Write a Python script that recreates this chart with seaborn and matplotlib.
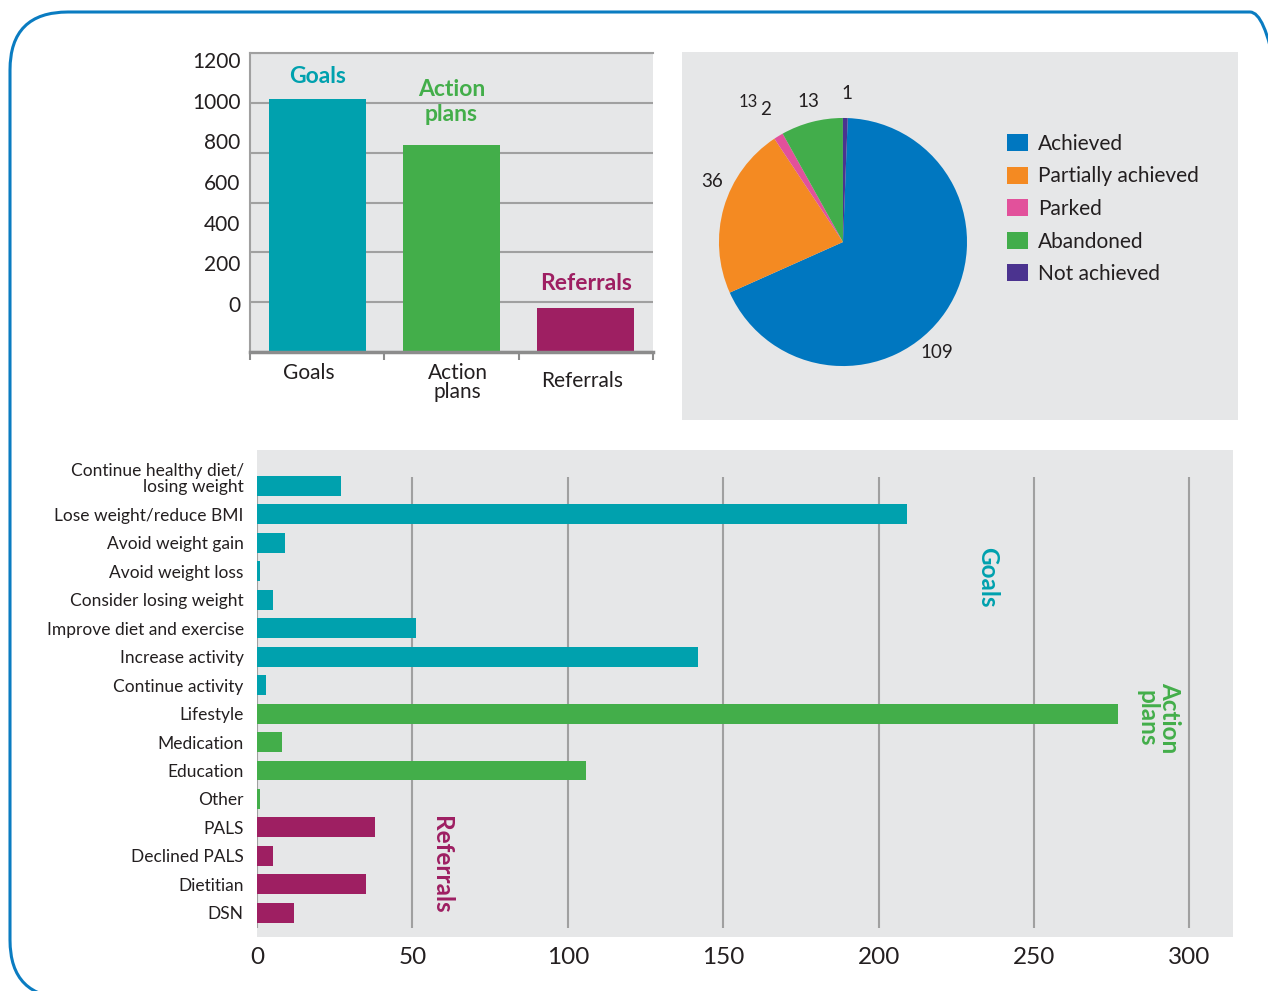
import numpy as np
import pandas as pd
import seaborn as sns
import matplotlib.pyplot as plt
from matplotlib.patches import FancyBboxPatch
from matplotlib.transforms import ScaledTranslation

sns.set_theme(style='white')
plt.rcParams['font.family'] = ['Lato', 'DejaVu Sans']
plt.rcParams['text.color'] = '#231f20'

# --- data ---
summary_categories = ['Goals', 'Action plans', 'Referrals']
summary_ticklabels = ['Goals', 'Action\nplans', 'Referrals']
summary_counts = [1015, 830, 175]

pie_labels = ['Achieved', 'Partially achieved', 'Parked', 'Abandoned', 'Not achieved']
pie_counts = [109, 36, 2, 13, 1]
pie_colors = ['#0077c0', '#f48a22', '#e2519b', '#42ad4b', '#4b338f']

detail_items = ['Continue healthy diet/\nlosing weight', 'Lose weight/reduce BMI',
                'Avoid weight gain', 'Avoid weight loss', 'Consider losing weight',
                'Improve diet and exercise', 'Increase activity', 'Continue activity',
                'Lifestyle', 'Medication', 'Education', 'Other',
                'PALS', 'Declined PALS', 'Dietitian', 'DSN']
detail_counts = [27, 209, 9, 1, 5, 51, 142, 3, 277, 8, 106, 1, 38, 5, 35, 12]
detail_groups = ['Goals'] * 8 + ['Action plans'] * 4 + ['Referrals'] * 4

group_colors = {'Goals': '#00a1ae', 'Action plans': '#43ae4a', 'Referrals': '#9e1f62'}
bg = '#e6e7e8'
grid_col = '#a0a0a0'

fig = plt.figure(figsize=(12.68, 9.91), dpi=100)

# --- top left: totals ---
ax1 = fig.add_axes([250/1268, 1-352/991, 403/1268, 299/991])
df1 = pd.DataFrame({'cat': summary_categories, 'n': summary_counts})
sns.barplot(data=df1, x='cat', y='n', hue='cat', palette=group_colors, width=0.72,
            saturation=1, legend=False, linewidth=0, ax=ax1)
ax1.set_xlim(-0.5, 2.5)
ax1.set_ylim(0, 1200)
ax1.set_facecolor(bg)
ax1.set_yticks(range(0, 1201, 200))
ax1.set_yticklabels([])
ax1.yaxis.grid(True, color=grid_col, lw=1.5)
ax1.set_axisbelow(True)
ax1.tick_params(axis='y', length=0)
ax1.set_xticks([0, 1, 2])
ax1.set_xticklabels(summary_ticklabels, fontsize=15, linespacing=0.95)
ax1.set_xticks([-0.5, 0.5, 1.5, 2.5], minor=True)
ax1.tick_params(axis='x', which='major', length=0, pad=8, labelcolor='#231f20')
ax1.tick_params(axis='x', which='minor', bottom=True, length=6, width=1.5,
                color='#8c8c8c', direction='out')
ax1.set_xlabel('')
ax1.set_ylabel('')
for s in ['left', 'top']:
    ax1.spines[s].set_color(grid_col)
    ax1.spines[s].set_linewidth(1.5)
ax1.spines['right'].set_visible(False)
ax1.spines['bottom'].set_color('#8c8c8c')
ax1.spines['bottom'].set_linewidth(2.5)
# the printed category labels sit a little off-centre
for lbl, (dx, dy) in zip(ax1.get_xticklabels(), [(-8, 0), (6, 0), (-4, -8)]):
    lbl.set_transform(lbl.get_transform() + ScaledTranslation(dx/100, dy/100, fig.dpi_scale_trans))

title_offsets = [12, 20, 14]
for i, (lab, n) in enumerate(zip(summary_ticklabels, summary_counts)):
    ax1.annotate(lab, (i, n), xytext=(0, title_offsets[i]), textcoords='offset pixels',
                 ha='center', va='bottom', fontsize=16.5, fontweight='bold',
                 color=group_colors[summary_categories[i]], linespacing=1.25)

# value labels on the left, as printed in the source
ax1b = ax1.twinx()
ax1b.set_ylim(-236, 1234)
ax1b.set_yticks(range(0, 1201, 200))
ax1b.yaxis.tick_left()
ax1b.tick_params(axis='y', length=0, pad=7, labelsize=15, labelcolor='#231f20')
ax1b.grid(False)
for s in ax1b.spines.values():
    s.set_visible(False)

# --- top right: pie ---
ax2 = fig.add_axes([682/1268, 1-420/991, 556/1268, 368/991])
wedges, _ = ax2.pie(pie_counts, colors=pie_colors, startangle=87.8, counterclock=False,
                    frame=True, wedgeprops=dict(linewidth=0))
ax2.set_aspect('auto')
ax2.set_xlim(-1.298, 3.185)
ax2.set_ylim(-1.435, 1.532)
ax2.set_facecolor(bg)
ax2.set_xticks([])
ax2.set_yticks([])
for s in ax2.spines.values():
    s.set_visible(False)

pie_text = [('109', 0.758, -0.887, 13.5), ('36', -1.056, 0.484, 13.5), ('13', -0.282, 1.129, 13.5),
            ('1', 0.032, 1.194, 13.5), ('13', -0.766, 1.129, 12), ('2', -0.621, 1.065, 13.5)]
for t, x, y, fs in pie_text:
    ax2.text(x, y, t, ha='center', va='center', fontsize=fs)

ax2.legend(wedges, pie_labels, loc='upper left', bbox_to_anchor=(1007/1268, 1-134/991),
           bbox_transform=fig.transFigure, frameon=False, fontsize=15,
           handlelength=1.0, handleheight=0.9, handletextpad=0.5, labelspacing=0.6,
           borderpad=0, borderaxespad=0)

# --- bottom: breakdown ---
ax3 = fig.add_axes([257/1268, 1-937/991, 976/1268, 487/991])
df3 = pd.DataFrame({'item': detail_items, 'n': detail_counts, 'group': detail_groups})
sns.barplot(data=df3, x='n', y='item', hue='group', palette=group_colors, width=0.7,
            dodge=False, saturation=1, legend=False, orient='h', linewidth=0, ax=ax3)
ax3.set_facecolor(bg)
ax3.set_xlim(0, 314)
ax3.set_ylim(15.85, -1.26)
ax3.vlines(range(0, 301, 50), -0.32, 15.53, colors=grid_col, lw=1.5, zorder=0.5)
ax3.set_xticks(range(0, 301, 50))
ax3.tick_params(axis='x', length=0, pad=7, labelsize=17.5, labelcolor='#231f20')
ax3.tick_params(axis='y', length=0, pad=9.5, labelsize=12.5, labelcolor='#231f20')
for lbl in ax3.get_yticklabels():
    lbl.set_linespacing(0.95)
first_lbl = ax3.get_yticklabels()[0]
first_lbl.set_transform(first_lbl.get_transform() + ScaledTranslation(0, 0.08, fig.dpi_scale_trans))
ax3.set_xlabel('')
ax3.set_ylabel('')
for s in ax3.spines.values():
    s.set_visible(False)

ax3.text(235, 3.2, 'Goals', rotation=-90, ha='center', va='center', fontsize=17.5,
         fontweight='bold', color=group_colors['Goals'])
ax3.text(290, 8.15, 'Action\nplans', rotation=-90, ha='center', va='center', fontsize=17.5,
         fontweight='bold', color=group_colors['Action plans'], linespacing=1.0)
ax3.text(59.5, 13.3, 'Referrals', rotation=-90, ha='center', va='center', fontsize=17.5,
         fontweight='bold', color=group_colors['Referrals'])

# rounded blue frame
fig.add_artist(FancyBboxPatch((0.10, -0.07), 12.98, 9.86,
                              boxstyle='round,pad=0,rounding_size=0.58',
                              transform=fig.dpi_scale_trans, fill=False,
                              ec='#0a7cc1', lw=2.2))

fig.savefig('out.png', dpi=100)
